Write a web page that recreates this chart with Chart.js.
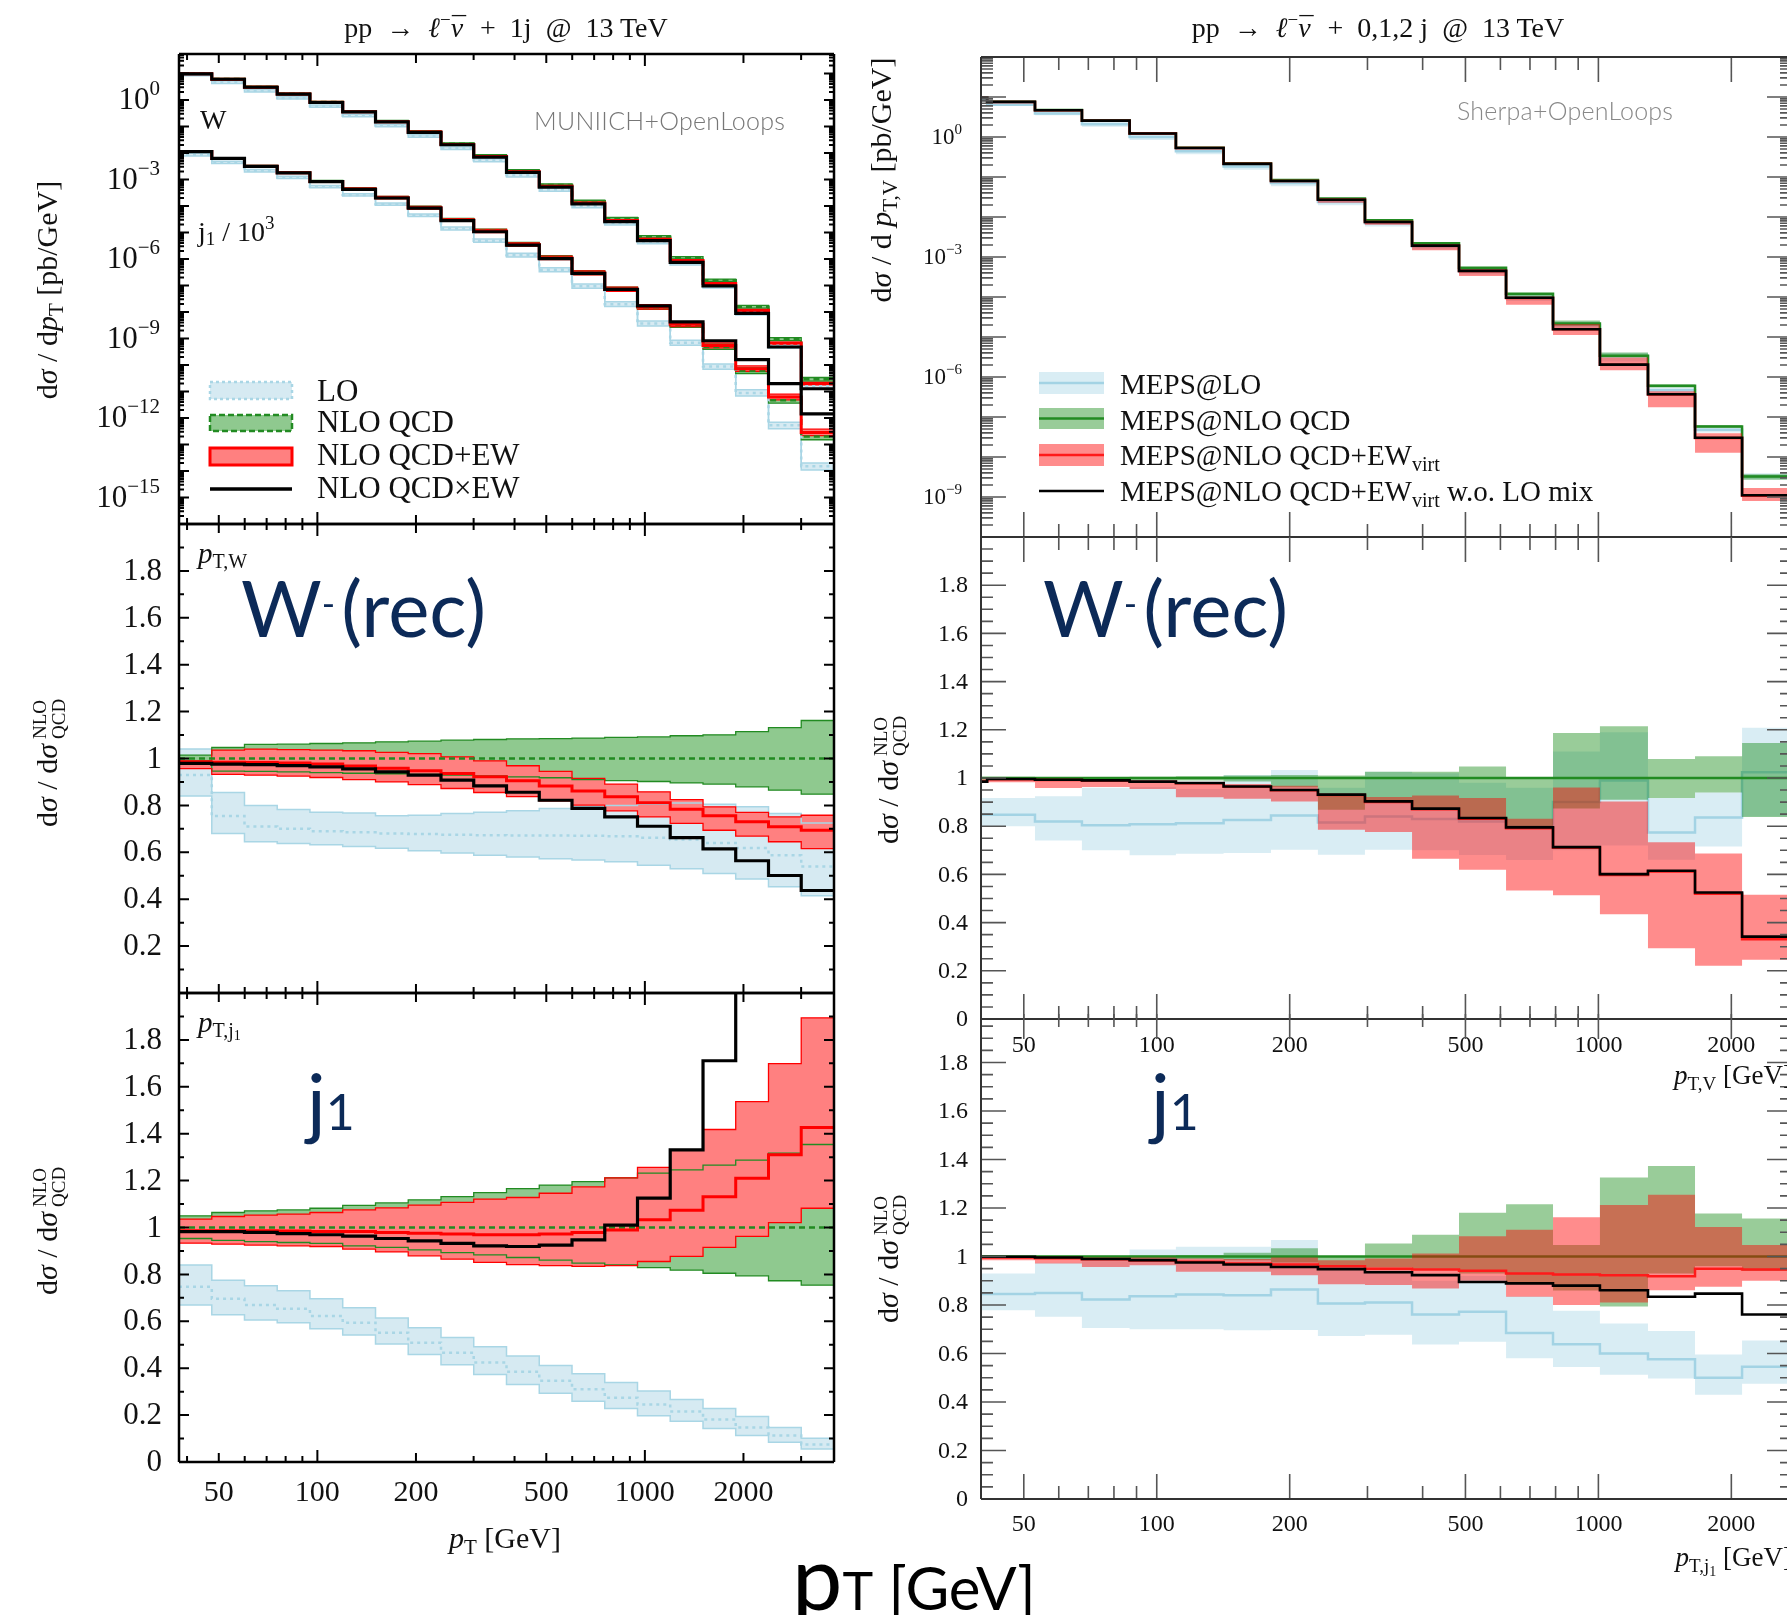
<!DOCTYPE html>
<html>
<head>
<meta charset="utf-8">
<title>W- + jet transverse momentum</title>
<script src="https://cdn.jsdelivr.net/npm/chart.js@4.4.1/dist/chart.umd.min.js"></script>
<style>
  html, body { margin: 0; padding: 0; background: #fff; }
  #page { position: relative; width: 1787px; height: 1615px; overflow: hidden; background: #fff; }
  #page canvas { position: absolute; left: 0; top: 0; }
  #labels { position: absolute; left: 0; top: 0; }
</style>
</head>
<body>
<div id="page">
  <canvas id="lt" width="1840" height="1615"></canvas>
  <canvas id="lm" width="1840" height="1615"></canvas>
  <canvas id="lb" width="1840" height="1615"></canvas>
  <canvas id="rt" width="1840" height="1615"></canvas>
  <canvas id="rm" width="1840" height="1615"></canvas>
  <canvas id="rb" width="1840" height="1615"></canvas>

  <svg id="labels" width="1787" height="1615" viewBox="0 0 1787 1615" font-family="'Liberation Serif', 'DejaVu Serif', serif" fill="#111">
    <!-- process titles -->
    <text x="506" y="37" font-size="28" text-anchor="middle">pp&#8194;→&#8194;<tspan font-style="italic">ℓ</tspan><tspan font-size="19" dy="-11">−</tspan><tspan font-style="italic" dy="11">ν</tspan><tspan dx="-11" dy="-1">¯</tspan><tspan dy="1">&#8194;+&#8194;1j&#8194;@&#8194;13 TeV</tspan></text>
    <text x="1378" y="37" font-size="28" text-anchor="middle">pp&#8194;→&#8194;<tspan font-style="italic">ℓ</tspan><tspan font-size="19" dy="-11">−</tspan><tspan font-style="italic" dy="11">ν</tspan><tspan dx="-11" dy="-1">¯</tspan><tspan dy="1">&#8194;+&#8194;0,1,2 j&#8194;@&#8194;13 TeV</tspan></text>

    <!-- y axis titles, left column -->
    <text transform="translate(57,290) rotate(-90)" text-anchor="middle" font-size="30">d<tspan font-style="italic">σ</tspan> / d<tspan font-style="italic">p</tspan><tspan font-size="21" dy="6">T</tspan><tspan dy="-6"> [pb/GeV]</tspan></text>
    <g transform="translate(57,760) rotate(-90)" font-size="30">
      <text x="-67">d<tspan font-style="italic">σ</tspan> / d<tspan font-style="italic">σ</tspan></text>
      <text x="21" y="-11" font-size="19">NLO</text>
      <text x="21" y="8" font-size="19">QCD</text>
    </g>
    <g transform="translate(57,1228) rotate(-90)" font-size="30">
      <text x="-67">d<tspan font-style="italic">σ</tspan> / d<tspan font-style="italic">σ</tspan></text>
      <text x="21" y="-11" font-size="19">NLO</text>
      <text x="21" y="8" font-size="19">QCD</text>
    </g>

    <!-- y axis titles, right column -->
    <text transform="translate(891,180) rotate(-90)" text-anchor="middle" font-size="30">d<tspan font-style="italic">σ</tspan> / d <tspan font-style="italic">p</tspan><tspan font-size="21" dy="6">T,V</tspan><tspan dy="-6">  [pb/GeV]</tspan></text>
    <g transform="translate(898,777) rotate(-90)" font-size="30">
      <text x="-67">d<tspan font-style="italic">σ</tspan> / d<tspan font-style="italic">σ</tspan></text>
      <text x="21" y="-11" font-size="19">NLO</text>
      <text x="21" y="8" font-size="19">QCD</text>
    </g>
    <g transform="translate(898,1256) rotate(-90)" font-size="30">
      <text x="-67">d<tspan font-style="italic">σ</tspan> / d<tspan font-style="italic">σ</tspan></text>
      <text x="21" y="-11" font-size="19">NLO</text>
      <text x="21" y="8" font-size="19">QCD</text>
    </g>

    <!-- panel tags -->
    <text x="200" y="129" font-size="28">W</text>
    <text x="198" y="241" font-size="28">j<tspan font-size="19" dy="4">1</tspan><tspan dy="-4"> / 10</tspan><tspan font-size="19" dy="-12">3</tspan></text>
    <text x="534" y="130" font-family="Lato, sans-serif" font-weight="300" font-size="25" fill="#777" textLength="251">MUNIICH+OpenLoops</text>
    <text x="1457" y="120" font-family="Lato, sans-serif" font-weight="300" font-size="25" fill="#888" textLength="216">Sherpa+OpenLoops</text>
    <text x="198" y="563" font-size="29"><tspan font-style="italic">p</tspan><tspan font-size="20" dy="5">T,W</tspan></text>
    <text x="198" y="1032" font-size="29"><tspan font-style="italic">p</tspan><tspan font-size="20" dy="5">T,j</tspan><tspan font-size="14" dy="3">1</tspan></text>

    <!-- legend, fixed order -->
    <rect x="210" y="382" width="82" height="17" fill="#d6eaf2" stroke="#a9d6e5" stroke-width="2.5" stroke-dasharray="3 3"/>
    <rect x="210" y="415" width="82" height="16" fill="#8fc98f" stroke="#228b22" stroke-width="2.5" stroke-dasharray="6 3"/>
    <rect x="210" y="448" width="82" height="17" fill="#ff8080" stroke="#ff0000" stroke-width="3"/>
    <line x1="210" y1="489" x2="292" y2="489" stroke="#000" stroke-width="3.5"/>
    <text x="317" y="401" font-size="31">LO</text>
    <text x="317" y="432" font-size="31">NLO QCD</text>
    <text x="317" y="465" font-size="31">NLO QCD+EW</text>
    <text x="317" y="498" font-size="31">NLO QCD×EW</text>

    <!-- legend, merged samples -->
    <rect x="1039" y="372" width="65" height="22" fill="rgba(173,216,230,0.46)"/>
    <line x1="1039" y1="383" x2="1104" y2="383" stroke="#a3d3e4" stroke-width="2.5"/>
    <rect x="1039" y="408" width="65" height="21" fill="rgba(0,128,0,0.4)"/>
    <line x1="1039" y1="418.5" x2="1104" y2="418.5" stroke="#228b22" stroke-width="2.5"/>
    <rect x="1039" y="444" width="65" height="22" fill="rgba(255,0,0,0.45)"/>
    <line x1="1039" y1="455" x2="1104" y2="455" stroke="#ff1a1a" stroke-width="2.5"/>
    <line x1="1039" y1="491" x2="1104" y2="491" stroke="#000" stroke-width="2.5"/>
    <text x="1120" y="394" font-size="29">MEPS@LO</text>
    <text x="1120" y="430" font-size="29">MEPS@NLO QCD</text>
    <text x="1120" y="465" font-size="29">MEPS@NLO QCD+EW<tspan font-size="20" dy="6">virt</tspan></text>
    <text x="1120" y="501" font-size="29">MEPS@NLO QCD+EW<tspan font-size="20" dy="6">virt</tspan><tspan dy="-6"> w.o. LO mix</tspan></text>

    <!-- x axis titles -->
    <text x="505" y="1548" font-size="30" text-anchor="middle"><tspan font-style="italic">p</tspan><tspan font-size="21" dy="6">T</tspan><tspan dy="-6"> [GeV]</tspan></text>
    <text x="1792" y="1084" font-size="27" text-anchor="end"><tspan font-style="italic">p</tspan><tspan font-size="19" dy="6">T,V</tspan><tspan dy="-6">  [GeV]</tspan></text>
    <text x="1792" y="1566" font-size="27" text-anchor="end"><tspan font-style="italic">p</tspan><tspan font-size="19" dy="6">T,j</tspan><tspan font-size="14" dy="4">1</tspan><tspan dy="-10">  [GeV]</tspan></text>

    <!-- observable tags -->
    <g font-family="Lato, 'Open Sans', sans-serif" fill="#0c2a58">
      <text x="241" y="637" font-size="78">W<tspan font-size="36" dy="-20">-</tspan><tspan dy="20" dx="6">(rec)</tspan></text>
      <text x="1043" y="637" font-size="78">W<tspan font-size="36" dy="-20">-</tspan><tspan dy="20" dx="6">(rec)</tspan></text>
      <text x="307" y="1130" font-size="78">j<tspan font-size="50">1</tspan></text>
      <text x="1151" y="1130" font-size="78">j<tspan font-size="50">1</tspan></text>
    </g>
    <text x="792" y="1610" font-family="Lato, 'Open Sans', sans-serif" fill="#000"><tspan font-size="90">p</tspan><tspan font-size="52">T</tspan><tspan font-size="60"> [GeV]</tspan></text>
  </svg>
</div>

<script>
// ---------- fixed-order W- + 1 jet, bins in pT [GeV] ----------
const fixedEdges = [37.8, 47.6, 59.9, 75.4, 94.9, 119.5, 150.5, 189.4, 238.5, 300.2, 378, 475.9, 599.1, 754.2, 949.5, 1195, 1505, 1894, 2385, 3002, 3780];

// NLO QCD dsigma/dpT [pb/GeV]
const nloW = [9.77, 6.17, 3.09, 1.70, 0.83, 0.372, 0.158, 0.0646, 0.0224, 7.9e-3, 2.14e-3, 6.2e-4, 1.51e-4, 3.4e-5, 6.9e-6, 1.12e-6, 1.58e-7, 1.58e-8, 9.5e-10, 2.9e-11];
const nloJ = [1.15e-2, 6.3e-3, 3.16e-3, 1.82e-3, 8.5e-4, 4.4e-4, 2.09e-4, 8.7e-5, 3.0e-5, 1.15e-5, 3.6e-6, 1.12e-6, 3.0e-7, 7.1e-8, 1.51e-8, 3.2e-9, 4.8e-10, 6.0e-11, 4.7e-12, 2.0e-13];

// ratios to NLO QCD, pT of the W
const loW    = [0.93, 0.755, 0.71, 0.70, 0.69, 0.685, 0.68, 0.678, 0.675, 0.673, 0.672, 0.672, 0.671, 0.668, 0.662, 0.655, 0.64, 0.618, 0.587, 0.539];
const loWUp  = [1.04, 0.855, 0.80, 0.783, 0.771, 0.768, 0.756, 0.758, 0.765, 0.771, 0.777, 0.787, 0.794, 0.80, 0.805, 0.81, 0.805, 0.794, 0.765, 0.725];
const loWDn  = [0.84, 0.68, 0.645, 0.638, 0.632, 0.625, 0.617, 0.607, 0.597, 0.587, 0.58, 0.573, 0.567, 0.56, 0.545, 0.53, 0.51, 0.486, 0.453, 0.415];
const nloWUp = [1.014, 1.047, 1.06, 1.061, 1.064, 1.067, 1.071, 1.074, 1.078, 1.081, 1.084, 1.085, 1.087, 1.09, 1.092, 1.097, 1.101, 1.115, 1.132, 1.162];
const nloWDn = [0.99, 0.946, 0.945, 0.943, 0.94, 0.937, 0.935, 0.932, 0.929, 0.926, 0.922, 0.918, 0.91, 0.906, 0.902, 0.896, 0.891, 0.879, 0.865, 0.848];
const ewW    = [0.984, 0.984, 0.983, 0.981, 0.977, 0.968, 0.958, 0.948, 0.936, 0.922, 0.905, 0.883, 0.861, 0.837, 0.811, 0.784, 0.756, 0.73, 0.709, 0.694];
const ewWUp  = [0.99, 1.036, 1.04, 1.038, 1.036, 1.033, 1.026, 1.021, 1.007, 0.99, 0.969, 0.945, 0.915, 0.891, 0.858, 0.825, 0.794, 0.77, 0.751, 0.758];
const ewWDn  = [0.957, 0.932, 0.929, 0.925, 0.919, 0.91, 0.9, 0.889, 0.872, 0.855, 0.837, 0.819, 0.801, 0.777, 0.751, 0.723, 0.694, 0.669, 0.645, 0.616];
const mixW   = [0.979, 0.976, 0.974, 0.970, 0.964, 0.956, 0.943, 0.929, 0.908, 0.883, 0.856, 0.822, 0.787, 0.751, 0.711, 0.663, 0.615, 0.564, 0.501, 0.437];

// ratios to NLO QCD, pT of the leading jet
const loJ    = [0.747, 0.696, 0.670, 0.653, 0.623, 0.594, 0.551, 0.509, 0.466, 0.424, 0.385, 0.347, 0.310, 0.274, 0.245, 0.215, 0.181, 0.147, 0.113, 0.075];
const loJUp  = [0.84, 0.775, 0.752, 0.73, 0.696, 0.658, 0.614, 0.573, 0.531, 0.492, 0.452, 0.412, 0.376, 0.339, 0.303, 0.267, 0.228, 0.194, 0.147, 0.101];
const loJDn  = [0.67, 0.628, 0.606, 0.594, 0.568, 0.542, 0.503, 0.458, 0.415, 0.373, 0.33, 0.293, 0.259, 0.228, 0.197, 0.174, 0.143, 0.113, 0.084, 0.055];
const nloJUp = [1.05, 1.064, 1.071, 1.075, 1.082, 1.094, 1.105, 1.118, 1.132, 1.149, 1.166, 1.181, 1.196, 1.212, 1.232, 1.246, 1.266, 1.287, 1.317, 1.354];
const nloJDn = [0.953, 0.945, 0.94, 0.936, 0.932, 0.922, 0.915, 0.905, 0.893, 0.883, 0.872, 0.861, 0.848, 0.84, 0.829, 0.818, 0.805, 0.794, 0.773, 0.754];
const ewJ    = [0.986, 0.986, 0.986, 0.985, 0.983, 0.983, 0.979, 0.976, 0.972, 0.969, 0.969, 0.972, 0.979, 0.989, 1.033, 1.074, 1.131, 1.21, 1.31, 1.426];
const ewJUp  = [1.036, 1.047, 1.053, 1.057, 1.064, 1.075, 1.084, 1.095, 1.107, 1.121, 1.128, 1.146, 1.173, 1.212, 1.256, 1.33, 1.418, 1.537, 1.699, 1.894];
const ewJDn  = [0.933, 0.929, 0.925, 0.922, 0.919, 0.908, 0.896, 0.879, 0.865, 0.851, 0.842, 0.837, 0.834, 0.837, 0.855, 0.877, 0.915, 0.962, 1.021, 1.082];
const mixJ   = [0.982, 0.982, 0.979, 0.974, 0.969, 0.963, 0.953, 0.943, 0.932, 0.922, 0.919, 0.925, 0.947, 1.010, 1.125, 1.331, 1.711, 2.63, 4.2, 7.1];

// ---------- merged MEPS samples, bins in pT [GeV] ----------
const mepsEdges = [32.3, 41.3, 53.0, 67.7, 86.8, 110.5, 141.7, 181.4, 231.7, 296.1, 378.5, 483.5, 617.9, 789.3, 1008, 1295, 1655, 2115, 2702];

// MEPS@NLO QCD dsigma/dpT,V [pb/GeV]
const mepsNloV = [9.9, 7.57, 4.71, 2.59, 1.24, 0.540, 0.221, 0.0836, 0.0289, 8.3e-3, 2.21e-3, 5.4e-4, 1.20e-4, 2.19e-5, 3.39e-6, 6.0e-7, 5.75e-8, 3.24e-9];

// ratios to MEPS@NLO QCD, pT of the vector boson
const mepsLoV    = [0.847, 0.847, 0.819, 0.804, 0.808, 0.812, 0.826, 0.844, 0.815, 0.840, 0.83, 0.82, 0.80, 0.90, 0.99, 0.774, 0.836, 1.024];
const mepsLoVUp  = [0.917, 0.917, 0.924, 0.96, 0.963, 0.954, 1.012, 1.033, 0.96, 1.026, 1.02, 0.98, 0.96, 1.11, 1.19, 0.917, 0.94, 1.208];
const mepsLoVDn  = [0.80, 0.80, 0.741, 0.70, 0.679, 0.686, 0.689, 0.702, 0.682, 0.702, 0.70, 0.68, 0.66, 0.70, 0.72, 0.661, 0.716, 0.84];
const mepsNloVUp = [1.005, 1.005, 1.004, 1.004, 1.005, 1.007, 1.01, 1.012, 1.01, 1.026, 1.026, 1.048, 1.0, 1.187, 1.215, 1.079, 1.09, 1.145];
const mepsNloVDn = [0.995, 0.995, 0.994, 0.993, 0.992, 0.99, 0.985, 0.962, 0.868, 0.896, 0.868, 0.83, 0.80, 0.873, 0.91, 0.917, 0.94, 0.838];
const mepsEwV    = [0.984, 0.995, 0.992, 0.989, 0.984, 0.978, 0.964, 0.949, 0.929, 0.900, 0.870, 0.831, 0.792, 0.711, 0.598, 0.612, 0.520, 0.331];
const mepsEwVUp  = [0.995, 0.997, 0.994, 0.992, 0.988, 0.983, 0.975, 0.968, 0.931, 0.921, 0.927, 0.917, 0.831, 0.961, 0.902, 0.733, 0.687, 0.516];
const mepsEwVDn  = [0.982, 0.982, 0.958, 0.963, 0.954, 0.920, 0.914, 0.903, 0.785, 0.776, 0.665, 0.619, 0.533, 0.513, 0.435, 0.294, 0.221, 0.246];
const mepsNoMixV = [0.985, 0.996, 0.993, 0.990, 0.985, 0.979, 0.965, 0.950, 0.931, 0.903, 0.873, 0.834, 0.795, 0.713, 0.601, 0.615, 0.525, 0.342];

// ratios to MEPS@NLO QCD, pT of the leading jet
const mepsLoJ    = [0.845, 0.845, 0.85, 0.823, 0.836, 0.843, 0.84, 0.864, 0.806, 0.81, 0.761, 0.772, 0.685, 0.638, 0.60, 0.576, 0.50, 0.545];
const mepsLoJUp  = [0.93, 0.93, 0.974, 0.98, 1.029, 1.04, 1.04, 1.068, 0.96, 0.95, 0.90, 0.92, 0.836, 0.776, 0.724, 0.693, 0.596, 0.654];
const mepsLoJDn  = [0.778, 0.778, 0.752, 0.705, 0.70, 0.70, 0.696, 0.697, 0.672, 0.677, 0.637, 0.648, 0.58, 0.544, 0.512, 0.497, 0.43, 0.475];
const mepsNloJUp = [1.003, 1.003, 1.003, 1.003, 1.004, 1.006, 1.015, 1.034, 1.0, 1.054, 1.09, 1.18, 1.215, 1.047, 1.326, 1.373, 1.177, 1.157];
const mepsNloJDn = [0.997, 0.997, 0.996, 0.994, 0.992, 0.99, 0.985, 0.975, 0.96, 0.955, 0.95, 0.93, 0.89, 0.86, 0.794, 0.93, 0.96, 0.94];
const mepsEwJ    = [0.996, 0.996, 0.993, 0.989, 0.983, 0.978, 0.971, 0.967, 0.960, 0.949, 0.946, 0.941, 0.930, 0.926, 0.923, 0.919, 0.950, 0.946];
const mepsEwJUp  = [0.999, 0.999, 0.999, 0.996, 0.996, 0.992, 0.99, 0.996, 0.985, 0.992, 1.012, 1.084, 1.11, 1.162, 1.212, 1.255, 1.122, 1.047];
const mepsEwJDn  = [0.985, 0.985, 0.971, 0.957, 0.964, 0.937, 0.937, 0.923, 0.886, 0.882, 0.868, 0.90, 0.834, 0.80, 0.81, 0.861, 0.875, 0.90];
const mepsNoMixJ = [0.999, 0.999, 0.996, 0.990, 0.985, 0.975, 0.967, 0.957, 0.948, 0.935, 0.923, 0.895, 0.889, 0.880, 0.861, 0.834, 0.847, 0.761];

// tick labels
const ptTickLabels = [50, 100, 200, 500, 1000, 2000];
const ratioTickLabels = [0, 0.2, 0.4, 0.6, 0.8, 1, 1.2, 1.4, 1.6, 1.8];
const fixedLogExps = [0, -3, -6, -9, -12, -15];
const mepsLogExps = [0, -3, -6, -9];

// ---------- styles ----------
const FIXED = {loFill: '#d6eaf2', loEdge: '#a9d6e5', nloFill: '#8fc98f', nloEdge: '#228b22', ewFill: '#ff8080', ewEdge: '#ff0000'};
const MEPS = {loFill: 'rgba(173,216,230,0.46)', loLine: '#a3d3e4', nloFill: 'rgba(0,128,0,0.4)', nloLine: '#228b22', ewFill: 'rgba(255,0,0,0.45)', ewLine: '#ff1a1a'};
const PAGE_W = 1840, PAGE_H = 1615;
const SERIF = '"Liberation Serif", "DejaVu Serif", serif';

// histogram -> step polyline
function steps(edges, vals) {
  const pts = [];
  vals.forEach((v, i) => {
    pts.push({x: edges[i], y: v});
    pts.push({x: edges[i + 1], y: v});
  });
  return pts;
}

function stepLine(edges, vals, color, width, dash) {
  return {data: steps(edges, vals), borderColor: color, borderWidth: width, borderDash: dash || [], fill: false, pointRadius: 0};
}

function bandPair(edges, up, dn, fillColor, edgeColor, edgeWidth) {
  const c = edgeColor || 'rgba(0,0,0,0)';
  const w = edgeColor ? edgeWidth : 0;
  return [
    {data: steps(edges, up), borderColor: c, borderWidth: w, fill: false, pointRadius: 0},
    {data: steps(edges, dn), borderColor: c, borderWidth: w, fill: '-1', backgroundColor: fillColor, pointRadius: 0}
  ];
}

// absolute curves when base is given, plain ratios otherwise
function seriesSet(base, r) {
  const f = arr => base ? arr.map((v, i) => v * base[i]) : arr;
  return {
    lo: f(r.lo), loUp: f(r.loUp), loDn: f(r.loDn),
    nlo: base ? base : r.lo.map(() => 1), nloUp: f(r.nloUp), nloDn: f(r.nloDn),
    ew: f(r.ew), ewUp: f(r.ewUp), ewDn: f(r.ewDn), mix: f(r.mix)
  };
}

// fixed order: all fills first, edges and central lines on top
function fixedSets(edges, s) {
  return [
    ...bandPair(edges, s.loUp, s.loDn, FIXED.loFill, FIXED.loEdge, 1.5),
    ...bandPair(edges, s.nloUp, s.nloDn, FIXED.nloFill, FIXED.nloEdge, 1.3),
    ...bandPair(edges, s.ewUp, s.ewDn, FIXED.ewFill, FIXED.ewEdge, 1.3),
    stepLine(edges, s.lo, FIXED.loEdge, 2.5, [3, 4]),
    stepLine(edges, s.nlo, FIXED.nloEdge, 2.5, [6, 4]),
    stepLine(edges, s.ew, FIXED.ewEdge, 3),
    stepLine(edges, s.mix, '#000', 3.2)
  ];
}

// merged samples: each line sits under the next translucent band
function mepsSets(edges, s) {
  return [
    ...bandPair(edges, s.loUp, s.loDn, MEPS.loFill),
    stepLine(edges, s.lo, MEPS.loLine, 2.5),
    ...bandPair(edges, s.nloUp, s.nloDn, MEPS.nloFill),
    stepLine(edges, s.nlo, MEPS.nloLine, 2.5),
    ...bandPair(edges, s.ewUp, s.ewDn, MEPS.ewFill),
    stepLine(edges, s.ew, MEPS.ewLine, 2.5),
    stepLine(edges, s.mix, '#000', 2.6)
  ];
}

const ratioW = {lo: loW, loUp: loWUp, loDn: loWDn, nloUp: nloWUp, nloDn: nloWDn, ew: ewW, ewUp: ewWUp, ewDn: ewWDn, mix: mixW};
const ratioJ = {lo: loJ, loUp: loJUp, loDn: loJDn, nloUp: nloJUp, nloDn: nloJDn, ew: ewJ, ewUp: ewJUp, ewDn: ewJDn, mix: mixJ};
const ratioMV = {lo: mepsLoV, loUp: mepsLoVUp, loDn: mepsLoVDn, nloUp: mepsNloVUp, nloDn: mepsNloVDn, ew: mepsEwV, ewUp: mepsEwVUp, ewDn: mepsEwVDn, mix: mepsNoMixV};
const ratioMJ = {lo: mepsLoJ, loUp: mepsLoJUp, loDn: mepsLoJDn, nloUp: mepsNloJUp, nloDn: mepsNloJDn, ew: mepsEwJ, ewUp: mepsEwJUp, ewDn: mepsEwJDn, mix: mepsNoMixJ};

// ---------- tick lists ----------
function logTicks(lo, hi, majorLen, minorLen) {
  const out = [];
  for (let e = Math.floor(Math.log10(lo)); e <= Math.ceil(Math.log10(hi)); e++) {
    for (let m = 1; m < 10; m++) out.push({v: m * Math.pow(10, e), len: m === 1 ? majorLen : minorLen});
  }
  return out;
}
function linTicks(lo, hi, step, every, majorLen, minorLen) {
  const out = [];
  for (let k = Math.round(lo / step); k <= Math.round(hi / step); k++) {
    out.push({v: k * step, len: k % every === 0 ? majorLen : minorLen});
  }
  return out;
}
function ptTicks(decadeLen, labelLen, otherLen) {
  return logTicks(30, 4000, decadeLen, otherLen).map(t => ptTickLabels.includes(t.v) && t.len !== decadeLen ? {v: t.v, len: labelLen} : t);
}
const fixedX = ptTicks(12, 9, 6);
const mepsX = logTicks(30, 4000, 25, 13).map(t => ptTickLabels.includes(t.v) ? {v: t.v, len: 25} : {v: t.v, len: 13});

function ratioLabels(list) {
  return list.map(v => ({v, text: v === 0 ? '0' : v === 1 ? '1' : v.toFixed(1)}));
}
function powLabels(exps) {
  return exps.map(e => ({v: Math.pow(10, e), text: '10', sup: e === 0 ? '0' : '\u2212' + Math.abs(e)}));
}

function inRange(scale, v) {
  if (scale.type === 'logarithmic') return v >= scale.min * 0.9999 && v <= scale.max * 1.0001;
  const eps = (scale.max - scale.min) * 1e-6;
  return v >= scale.min - eps && v <= scale.max + eps;
}

// frame, inward ticks and tick labels of one panel
function axesPlugin(cfg) {
  return {
    id: 'panelAxes',
    afterDatasetsDraw(chart) {
      const ctx = chart.ctx, a = chart.chartArea;
      const sx = chart.scales.x, sy = chart.scales.y;
      ctx.save();
      ctx.lineCap = 'butt';
      ctx.strokeStyle = cfg.tickColor;
      ctx.lineWidth = cfg.tickWidth;
      ctx.beginPath();
      cfg.xTicks.forEach(t => {
        if (!inRange(sx, t.v)) return;
        const px = sx.getPixelForValue(t.v);
        if (cfg.xTop) { ctx.moveTo(px, a.top); ctx.lineTo(px, a.top + t.len); }
        if (cfg.xBottom) { ctx.moveTo(px, a.bottom); ctx.lineTo(px, a.bottom - t.len); }
      });
      cfg.yTicks.forEach(t => {
        if (!inRange(sy, t.v)) return;
        const py = sy.getPixelForValue(t.v);
        ctx.moveTo(a.left, py); ctx.lineTo(a.left + t.len, py);
        ctx.moveTo(a.right, py); ctx.lineTo(a.right - t.len, py);
      });
      ctx.stroke();

      ctx.strokeStyle = cfg.frameColor;
      ctx.lineWidth = cfg.frameWidth;
      ctx.beginPath();
      if (cfg.frame.includes('l')) { ctx.moveTo(a.left, a.top); ctx.lineTo(a.left, a.bottom); }
      if (cfg.frame.includes('r')) { ctx.moveTo(a.right, a.top); ctx.lineTo(a.right, a.bottom); }
      if (cfg.frame.includes('t')) { ctx.moveTo(a.left, a.top); ctx.lineTo(a.right, a.top); }
      if (cfg.frame.includes('b')) { ctx.moveTo(a.left, a.bottom); ctx.lineTo(a.right, a.bottom); }
      ctx.stroke();

      ctx.fillStyle = '#111';
      if (cfg.xLabels) {
        ctx.font = cfg.xLabels.font;
        ctx.textAlign = 'center';
        ctx.textBaseline = 'middle';
        ptTickLabels.forEach(v => ctx.fillText(String(v), sx.getPixelForValue(v), cfg.xLabels.y));
      }
      if (cfg.yLabels) {
        const L = cfg.yLabels;
        ctx.textAlign = 'left';
        ctx.textBaseline = 'middle';
        L.items.forEach(it => {
          if (!inRange(sy, it.v)) return;
          const py = sy.getPixelForValue(it.v) + (L.dy || 0);
          ctx.font = L.font;
          const w1 = ctx.measureText(it.text).width;
          let w2 = 0;
          if (it.sup) { ctx.font = L.supFont; w2 = ctx.measureText(it.sup).width; }
          const x0 = L.x - w1 - w2;
          ctx.font = L.font;
          ctx.fillText(it.text, x0, py);
          if (it.sup) { ctx.font = L.supFont; ctx.fillText(it.sup, x0 + w1, py - L.supRaise); }
        });
      }
      ctx.restore();
    }
  };
}

function makePanel(id, box, xRange, yRange, yLog, datasets, axes, fillTime) {
  datasets.forEach((d, i) => { d.order = datasets.length - i; });
  return new Chart(document.getElementById(id), {
    type: 'line',
    data: {datasets},
    options: {
      responsive: false,
      animation: false,
      devicePixelRatio: 1,
      layout: {padding: {left: box[0], top: box[1], right: PAGE_W - box[2], bottom: PAGE_H - box[3]}},
      scales: {
        x: {type: 'logarithmic', min: xRange[0], max: xRange[1], display: false, bounds: 'data'},
        y: {type: yLog ? 'logarithmic' : 'linear', min: yRange[0], max: yRange[1], display: false, bounds: 'data'}
      },
      elements: {point: {radius: 0}, line: {tension: 0, borderJoinStyle: 'miter', borderCapStyle: 'butt'}},
      plugins: {legend: {display: false}, tooltip: {enabled: false}, filler: {drawTime: fillTime}}
    },
    plugins: [axesPlugin(axes)]
  });
}

// ---------- fixed order column ----------
const fixedRange = [37.8, 3780];
const fixedAxes = {tickColor: '#000', tickWidth: 2, frameColor: '#000', frameWidth: 2.5, frame: 'lrtb', xTop: true, xBottom: true, xTicks: fixedX};
const fixedRatioTicks = linTicks(0.1, 1.9, 0.1, 2, 10, 5);

makePanel('lt', [179, 54, 834, 524], fixedRange, [1e-16, 54], true,
  [...fixedSets(fixedEdges, seriesSet(nloW, ratioW)), ...fixedSets(fixedEdges, seriesSet(nloJ, ratioJ))],
  Object.assign({}, fixedAxes, {
    yTicks: logTicks(1e-16, 100, 10, 5),
    yLabels: {items: powLabels(fixedLogExps), x: 160, font: '31px ' + SERIF, supFont: '21px ' + SERIF, supRaise: 11, dy: 1}
  }), 'beforeDatasetsDraw');

makePanel('lm', [179, 524, 834, 993], fixedRange, [0, 2], false,
  fixedSets(fixedEdges, seriesSet(null, ratioW)),
  Object.assign({}, fixedAxes, {
    yTicks: fixedRatioTicks,
    yLabels: {items: ratioLabels(ratioTickLabels.filter(v => v > 0)), x: 162, font: '31px ' + SERIF, dy: 1}
  }), 'beforeDatasetsDraw');

makePanel('lb', [179, 993, 834, 1462], fixedRange, [0, 2], false,
  fixedSets(fixedEdges, seriesSet(null, ratioJ)),
  Object.assign({}, fixedAxes, {
    yTicks: fixedRatioTicks,
    yLabels: {items: ratioLabels(ratioTickLabels), x: 162, font: '31px ' + SERIF, dy: 1},
    xLabels: {y: 1493, font: '30px ' + SERIF}
  }), 'beforeDatasetsDraw');

// ---------- merged MEPS column ----------
const mepsRange = [40, 2744];
const mepsAxes = {tickColor: '#555', tickWidth: 1.6, frameColor: '#333', frameWidth: 2, xTicks: mepsX};
const mepsRatioTicks = linTicks(0.05, 1.95, 0.05, 4, 25, 12);

makePanel('rt', [981, 57, 1792, 537], mepsRange, [1e-10, 100], true,
  mepsSets(mepsEdges, seriesSet(mepsNloV, ratioMV)),
  Object.assign({}, mepsAxes, {
    frame: 'ltb', xTop: true, xBottom: true,
    yTicks: logTicks(1e-10, 100, 25, 12),
    yLabels: {items: powLabels(mepsLogExps), x: 962, font: '23px ' + SERIF, supFont: '15px ' + SERIF, supRaise: 8, dy: 1}
  }), 'beforeDatasetDraw');

makePanel('rm', [981, 537, 1792, 1019], mepsRange, [0, 2], false,
  mepsSets(mepsEdges, seriesSet(null, ratioMV)),
  Object.assign({}, mepsAxes, {
    frame: 'lb', xTop: true, xBottom: true,
    yTicks: mepsRatioTicks,
    yLabels: {items: ratioLabels(ratioTickLabels), x: 968, font: '24px ' + SERIF, dy: 1},
    xLabels: {y: 1046, font: '24px ' + SERIF}
  }), 'beforeDatasetDraw');

makePanel('rb', [981, 1014, 1792, 1499], mepsRange, [0, 2], false,
  mepsSets(mepsEdges, seriesSet(null, ratioMJ)),
  Object.assign({}, mepsAxes, {
    frame: 'lb', xTop: true, xBottom: true,
    yTicks: mepsRatioTicks,
    yLabels: {items: ratioLabels(ratioTickLabels), x: 968, font: '24px ' + SERIF, dy: 1},
    xLabels: {y: 1525, font: '24px ' + SERIF}
  }), 'beforeDatasetDraw');
</script>
</body>
</html>
